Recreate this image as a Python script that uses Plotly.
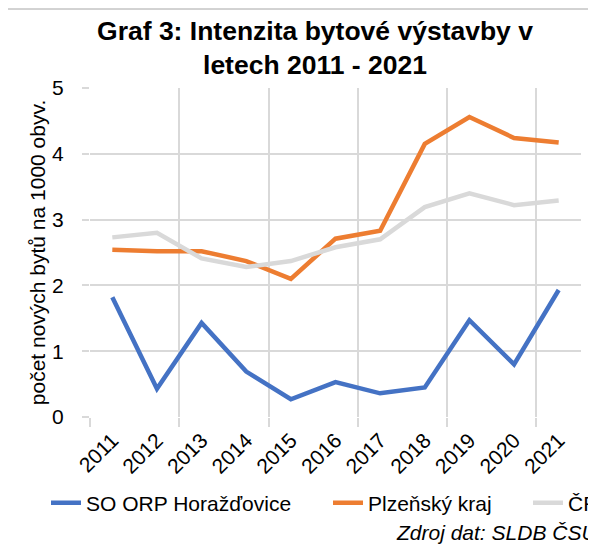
import plotly.graph_objects as go

years = [2011, 2012, 2013, 2014, 2015, 2016, 2017, 2018, 2019, 2020, 2021]
horazdovice = [1.82, 0.43, 1.43, 0.69, 0.27, 0.53, 0.36, 0.45, 1.47, 0.80, 1.93]
plzensky = [2.54, 2.52, 2.52, 2.37, 2.10, 2.71, 2.83, 4.15, 4.56, 4.24, 4.17]
cr = [2.73, 2.80, 2.41, 2.28, 2.37, 2.58, 2.70, 3.19, 3.40, 3.22, 3.29]
series_names = ["SO ORP Horažďovice", "Plzeňský kraj", "ČR"]
colors = ["#4472C4", "#ED7D31", "#D9D9D9"]
tick_labels = [str(y) for y in years]
grid_vals = [2010.5, 2012.5, 2014.5, 2016.5, 2018.5, 2020.5]

FONT = "Liberation Sans, Arial, sans-serif"
W, H = 588, 541  # page body has an 8px margin

fig = go.Figure()
for name, vals, col, lw in zip(series_names, [horazdovice, plzensky, cr], colors, [237, 155, 40]):
    fig.add_trace(go.Scatter(
        x=years, y=vals, name=name, mode="lines",
        line=dict(color=col, width=4.5),
        legendwidth=lw,
    ))

fig.update_layout(
    width=W, height=H,
    margin=dict(l=82, r=15, t=80, b=132, autoexpand=False),
    paper_bgcolor="white", plot_bgcolor="white",
    font=dict(family=FONT, size=21, color="#000000"),
    title=dict(
        text="<b>Graf 3: Intenzita bytové výstavby v<br>letech 2011 - 2021</b>",
        font=dict(family=FONT, size=26.5, color="#000000"),
        x=307 / W, xanchor="center", xref="container",
        y=1 - 32 / H, yanchor="middle", yref="container",
    ),
    xaxis=dict(
        range=[2010.5, 2021.5],
        tickmode="array", tickvals=years, ticktext=tick_labels,
        tickangle=-45, ticks="", showgrid=False, zeroline=False,
        tickfont=dict(size=21), ticklabelstandoff=6,
        minor=dict(tickmode="array", tickvals=grid_vals, showgrid=True,
                   gridcolor="#D9D9D9", gridwidth=1.5,
                   ticks="outside", ticklen=9, tickcolor="#D9D9D9", tickwidth=1.5),
    ),
    yaxis=dict(
        range=[0, 5], dtick=1, tick0=0,
        showgrid=True, gridcolor="#D9D9D9", gridwidth=1.5,
        zeroline=False,
        ticks="outside", ticklen=7, tickcolor="#D9D9D9", tickwidth=1.5,
        tickfont=dict(size=21), ticklabelstandoff=14,
        title=dict(text="počet nových bytů na 1000 obyv.", font=dict(size=21), standoff=0),
    ),
    showlegend=True,
    legend=dict(
        orientation="h", x=(46 - 90) / 491, xanchor="left",
        y=(417 - 503) / 329, yanchor="middle",
        font=dict(size=21), itemwidth=30, bgcolor="rgba(0,0,0,0)",
    ),
    shapes=[dict(type="rect", xref="paper", yref="paper",
                 x0=-0.3, x1=1.2, y0=-0.6, y1=(409 - 1) / 329,
                 line=dict(color="#A6A6A6", width=1), fillcolor="rgba(0,0,0,0)", layer="below")],
    annotations=[dict(text="<i>Zdroj dat: SLDB ČSÚ</i>", xref="paper", yref="paper",
                      x=(394 - 90) / 491, xanchor="left", y=(417 - 532) / 329, yanchor="middle",
                      showarrow=False, font=dict(size=21))],
)

fig.write_html("out.html")
